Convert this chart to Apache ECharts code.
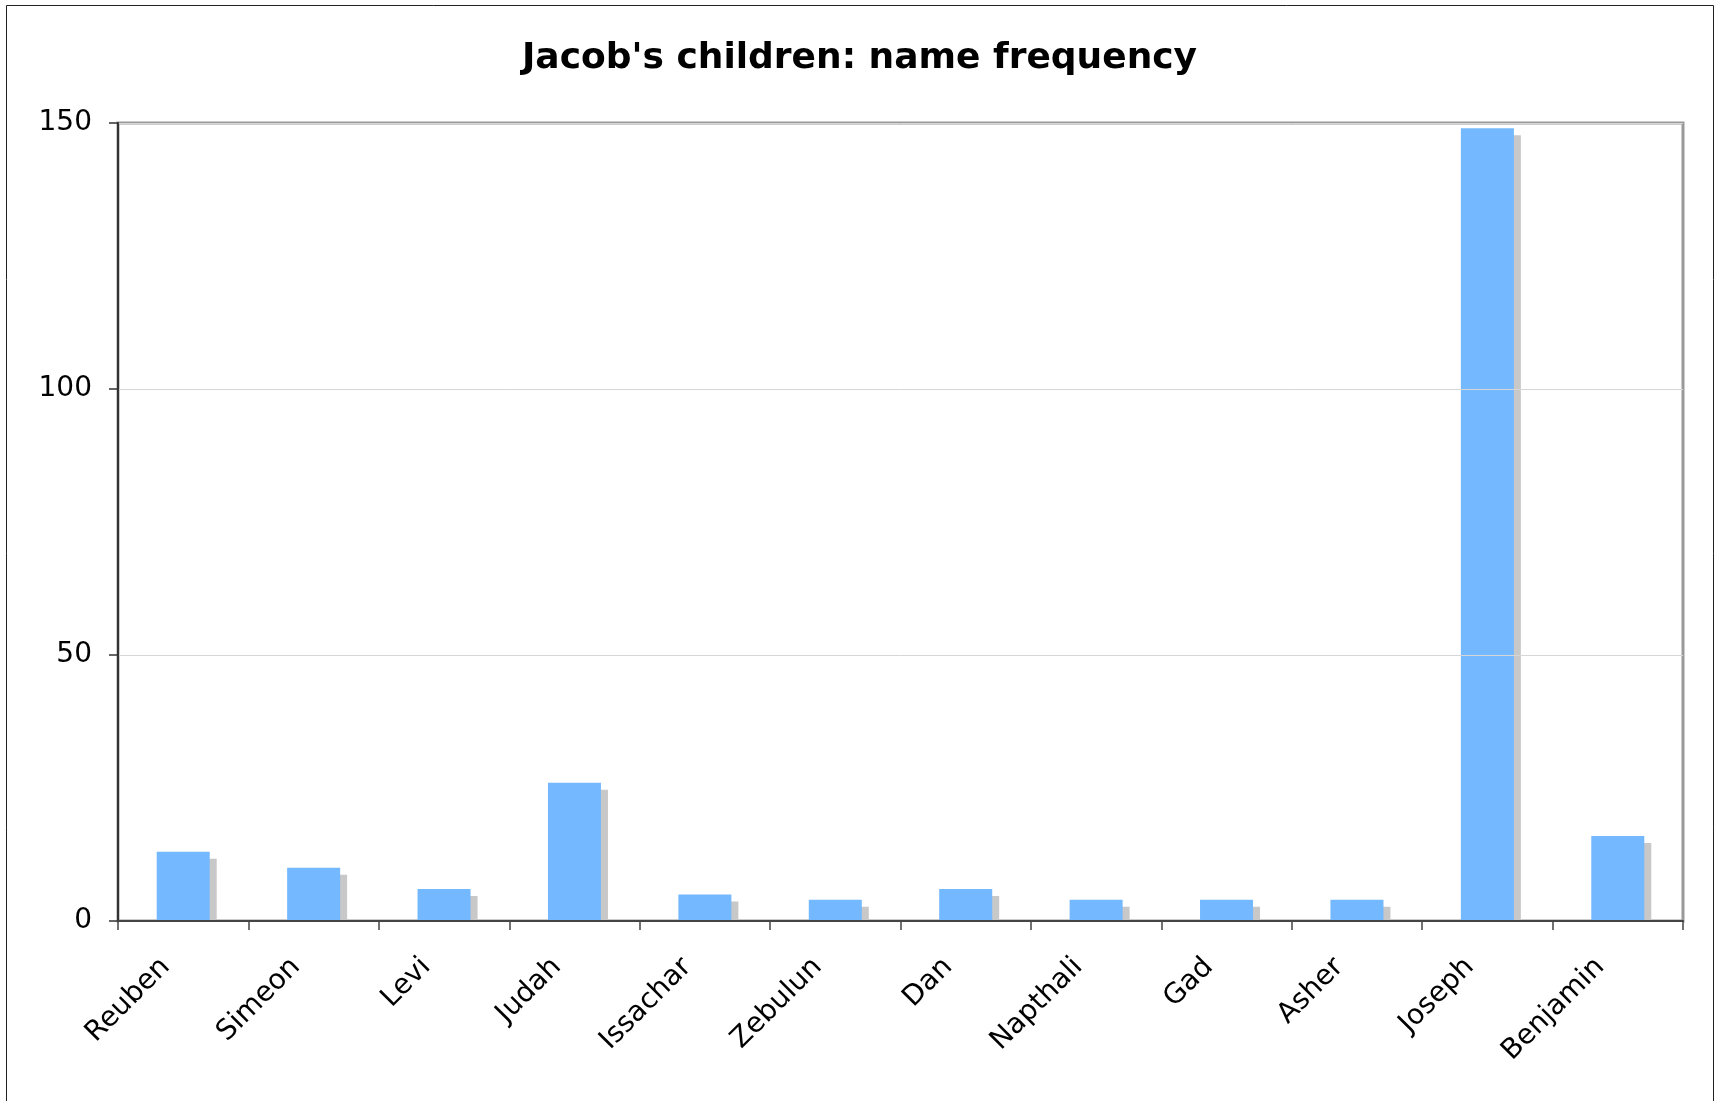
<!DOCTYPE html>
<html>
<head>
<meta charset="utf-8">
<title>Jacob's children: name frequency</title>
<script src="https://cdn.jsdelivr.net/npm/echarts@6/dist/echarts.min.js"></script>
<style>
  html, body { margin: 0; padding: 0; background: #fff; overflow: hidden; }
  #chart { width: 1719px; height: 1101px; }
</style>
</head>
<body>
<div id="chart"></div>
<script>
// Names of Jacob's twelve sons
const categories = ['Reuben', 'Simeon', 'Levi', 'Judah', 'Issachar', 'Zebulun',
                    'Dan', 'Napthali', 'Gad', 'Asher', 'Joseph', 'Benjamin'];
// How often each name occurs
const frequency = [13, 10, 6, 26, 5, 4, 6, 4, 4, 4, 149, 16];
// Value axis ticks
const yTicks = [0, 50, 100, 150];

const FONT = '"DejaVu Sans", Verdana, sans-serif';
const chart = echarts.init(document.getElementById('chart'), null, { renderer: 'canvas' });

const gridLeft = 118, gridRight = 36, gridTop = 123, gridBottom = 180;

chart.setOption({
  animation: false,
  backgroundColor: '#ffffff',
  title: {
    text: "Jacob's children: name frequency",
    left: 'center',
    top: 36,
    textStyle: { fontFamily: FONT, fontSize: 36, fontWeight: 'bold', color: '#000' }
  },
  grid: {
    left: gridLeft, right: gridRight, top: gridTop, bottom: gridBottom,
    show: true, borderColor: '#999999', borderWidth: 3, backgroundColor: '#ffffff'
  },
  graphic: [
    // page frame
    { type: 'rect', z: 100, silent: true,
      shape: { x: 6.5, y: 5.5, width: 1707, height: 1200 },
      style: { fill: 'none', stroke: '#222', lineWidth: 1 } },
    // keeps bar shadows from spilling below the category axis
    { type: 'rect', z: 5, silent: true,
      shape: { x: gridLeft + 1, y: 1101 - gridBottom + 1, width: 1719 - gridLeft - gridRight, height: 12 },
      style: { fill: '#ffffff' } }
  ],
  xAxis: {
    type: 'category',
    data: categories,
    z: 10,
    boundaryGap: true,
    axisLine: { show: true, lineStyle: { color: '#444', width: 2 } },
    axisTick: { show: true, length: 9, lineStyle: { color: '#444', width: 1.5 } },
    axisLabel: {
      rotate: 45, margin: 24, interval: 0,
      padding: [0, 25, 0, 0],
      fontFamily: FONT, fontSize: 28, color: '#000'
    },
    splitLine: { show: false }
  },
  yAxis: {
    type: 'value',
    min: yTicks[0],
    max: yTicks[yTicks.length - 1],
    interval: yTicks[1] - yTicks[0],
    z: 10,
    axisLine: { show: true, lineStyle: { color: '#333', width: 2 } },
    axisTick: { show: true, length: 9, lineStyle: { color: '#333', width: 1.5 } },
    axisLabel: { margin: 26, fontFamily: FONT, fontSize: 28, color: '#000' },
    splitLine: { show: true, lineStyle: { color: '#d6d6d6', width: 1 } }
  },
  series: [{
    type: 'bar',
    data: frequency,
    barWidth: 53,
    itemStyle: {
      color: '#74b8ff',
      shadowColor: '#c8c8c8',
      shadowBlur: 0,
      shadowOffsetX: 7,
      shadowOffsetY: 7
    }
  }]
});
</script>
</body>
</html>
